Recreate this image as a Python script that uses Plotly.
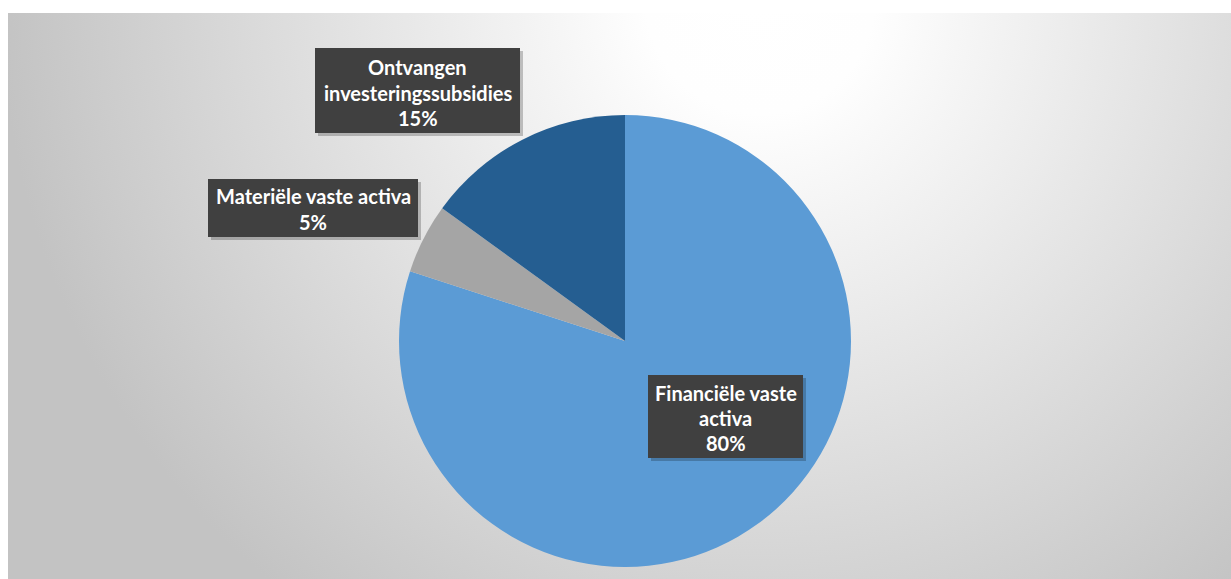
import plotly.graph_objects as go

# Balance composition (share of total)
labels = ["Financiële vaste activa", "Materiële vaste activa", "Ontvangen investeringssubsidies"]
values = [80, 5, 15]
colors = ["#5B9BD5", "#A5A5A5", "#255E91"]
# How each callout label is wrapped
label_lines = [["Financiële vaste", "activa"], ["Materiële vaste activa"], ["Ontvangen", "investeringssubsidies"]]

W, H = 1231, 579
FRAME_L, FRAME_T = 8, 13

# Callout boxes in page pixels: x0, y0, x1, y1, first text line centre y, line step
boxes = [
    (648, 375, 803, 458, 393, 25),
    (208, 179, 418, 237, 196, 26),
    (315, 48, 520, 133, 67, 25.5),
]

# Pie placement in page pixels
PIE_CX, PIE_CY, PIE_R = 625, 341, 226

pw, ph = W - FRAME_L, H - FRAME_T

fig = go.Figure()

# Radial background wash (square bbox -> circular gradient), clipped to the plot frame
GX, GY, GR = 760, 0, 760
fig.add_trace(go.Scatter(
    x=[GX - GR, GX + GR, GX + GR, GX - GR, GX - GR],
    y=[GY - GR, GY - GR, GY + GR, GY + GR, GY - GR],
    mode="none",
    fill="toself",
    fillgradient=dict(type="radial", colorscale=[[0, "#ffffff"], [0.15, "#fefefe"], [1, "#c3c3c3"]]),
    hoverinfo="skip",
    showlegend=False,
))

fig.add_trace(go.Pie(
    labels=labels,
    values=values,
    sort=False,
    direction="clockwise",
    rotation=0,
    marker=dict(colors=colors, line=dict(width=0)),
    textinfo="none",
    hoverinfo="label+percent",
    showlegend=False,
    domain=dict(
        x=[(PIE_CX - PIE_R - FRAME_L) / pw, (PIE_CX + PIE_R - FRAME_L) / pw],
        y=[(H - (PIE_CY + PIE_R)) / ph, (H - (PIE_CY - PIE_R)) / ph],
    ),
))

total = sum(values)
shapes = []
annotations = []
for lines, v, (x0, y0, x1, y1, ly, step) in zip(label_lines, values, boxes):
    shapes.append(dict(type="rect", xref="x", yref="y", x0=x0 + 3, y0=y0 + 3, x1=x1 + 3, y1=y1 + 3,
                       fillcolor="rgba(0,0,0,0.22)", line=dict(width=0), layer="above"))
    shapes.append(dict(type="rect", xref="x", yref="y", x0=x0, y0=y0, x1=x1, y1=y1,
                       fillcolor="#404040", line=dict(width=0), layer="above"))
    cx = (x0 + x1) / 2
    for i, t in enumerate(lines + [f"{v / total * 100:.0f}%"]):
        annotations.append(dict(
            x=cx, y=ly + i * step, xref="x", yref="y", text=t, showarrow=False,
            xanchor="center", yanchor="middle",
            font=dict(family="Lato", size=20, color="#ffffff", weight="bold"),
        ))

fig.update_layout(
    width=W, height=H,
    margin=dict(l=FRAME_L, t=FRAME_T, r=0, b=0),
    paper_bgcolor="#ffffff",
    plot_bgcolor="#ffffff",
    xaxis=dict(range=[FRAME_L, W], visible=False, fixedrange=True),
    yaxis=dict(range=[H, FRAME_T], visible=False, fixedrange=True),
    shapes=shapes,
    annotations=annotations,
)

fig.write_html("out.html")
